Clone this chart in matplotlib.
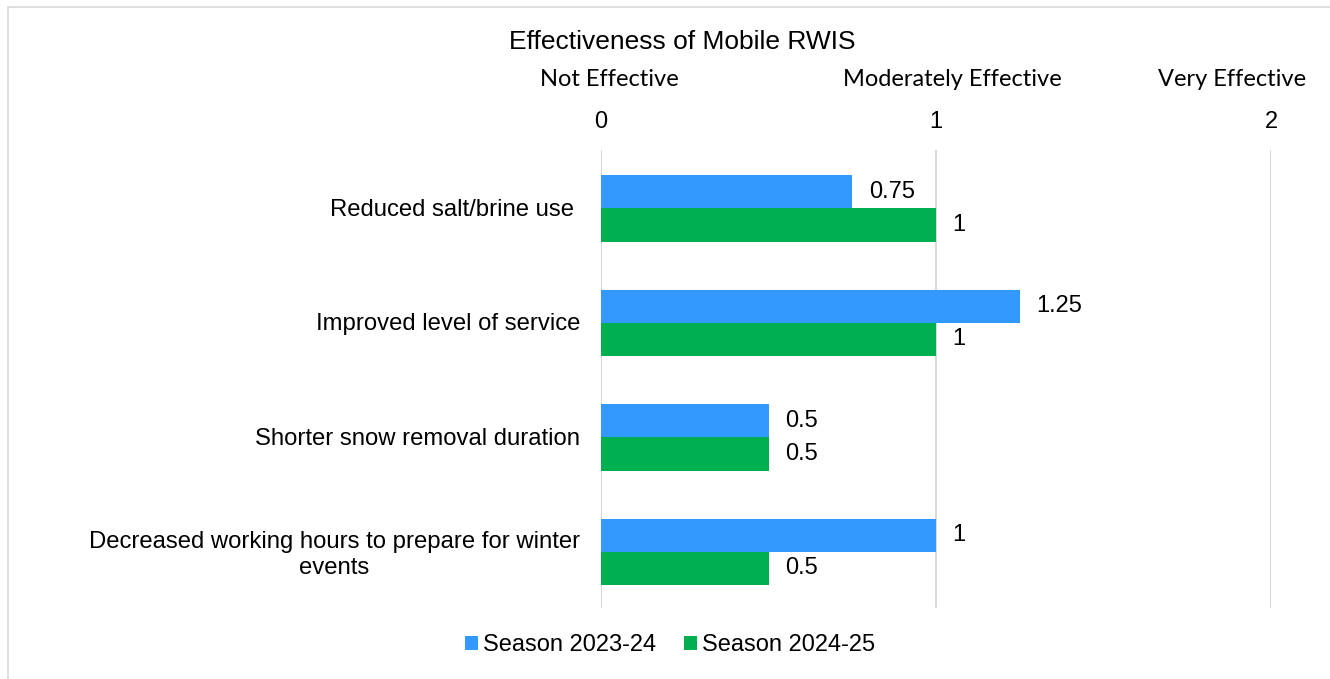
import matplotlib.pyplot as plt
import numpy as np
from matplotlib.patches import Rectangle

categories = [
    "Reduced salt/brine use ",
    "Improved level of service",
    "Shorter snow removal duration",
    "Decreased working hours to prepare for winter\nevents",
]
season_2023_24 = [0.75, 1.25, 0.5, 1]
season_2024_25 = [1, 1, 0.5, 0.5]
series_names = ["Season 2023-24", "Season 2024-25"]
tick_values = [0, 1, 2]
tick_words = ["Not Effective", "Moderately Effective", "Very Effective"]
title = "Effectiveness of Mobile RWIS"

blue = "#3399FF"
green = "#00B050"
grid_col = "#D9D9D9"

plt.rcParams["font.family"] = ["Liberation Sans", "DejaVu Sans"]

fig = plt.figure(figsize=(13.3, 6.79), dpi=100)
W, H = 1330, 679
ax = fig.add_axes([601 / W, 1 - 608 / H, 670 / W, 458 / H])

# chart border
fig.patches.append(Rectangle((8 / W, -0.01), 1.1, 1 - 7 / H + 0.01, transform=fig.transFigure,
                             fill=False, edgecolor=grid_col, linewidth=1.2))

y = np.arange(len(categories))
h = 0.29
b1 = ax.barh(y - h / 2 + 0.01, season_2023_24, height=h, color=blue, label=series_names[0])
b2 = ax.barh(y + h / 2 + 0.01, season_2024_25, height=h, color=green, label=series_names[1])

for bars, vals in ((b1, season_2023_24), (b2, season_2024_25)):
    for bar, v in zip(bars, vals):
        ax.annotate(f"{v:g}", (v, bar.get_y() + bar.get_height() / 2), xytext=(12, 0),
                    textcoords="offset points", va="center", ha="left", fontsize=17)

ax.set_xlim(0, 2)
ax.set_ylim(len(categories) - 0.5, -0.5)
ax.set_yticks(y)
ax.set_yticklabels(categories, fontsize=17.2, multialignment="center", linespacing=1.25)
ax.tick_params(axis="y", length=0, pad=15)
ax.xaxis.tick_top()
ax.set_xticks(tick_values)
ax.set_xticklabels([str(t) for t in tick_values], fontsize=17)
ax.tick_params(axis="x", length=0, pad=12)
ax.grid(axis="x", color=grid_col, linewidth=1.5)
ax.set_axisbelow(True)
for s in ax.spines.values():
    s.set_visible(False)

# scale words sit as text boxes over the ticks, nudged like the original
word_offsets = [8, 16, -39]
for t, w, dx in zip(tick_values, tick_words, word_offsets):
    ax.annotate(w, (t, 1), xycoords=ax.get_xaxis_transform(), xytext=(dx * 0.72, 70 * 0.72),
                textcoords="offset points", ha="center", va="center", fontsize=17,
                family=["Lato", "DejaVu Sans"])

fig.text(682 / W, 1 - 42 / H, title, ha="center", va="center", fontsize=19)

fig.legend(handles=[b1, b2], loc="center", bbox_to_anchor=(670 / W, 1 - 645 / H), ncol=2,
           frameon=False, fontsize=17, handlelength=0.55, handleheight=0.55,
           handletextpad=0.2, columnspacing=1.2)

fig.savefig("out.png", dpi=100)
